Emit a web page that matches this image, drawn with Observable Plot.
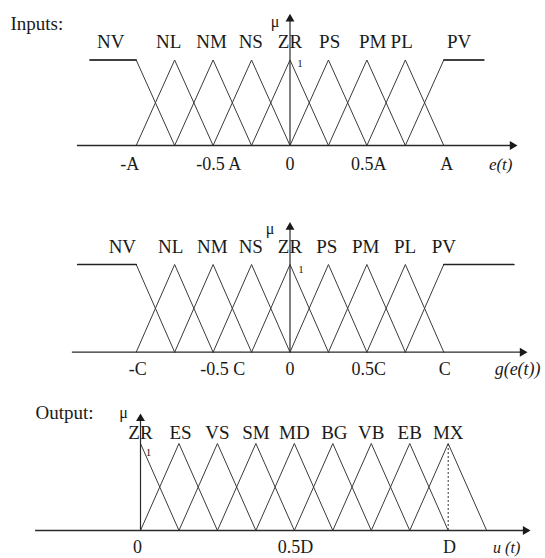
<!DOCTYPE html>
<html>
<head>
<meta charset="utf-8">
<script src="https://cdn.jsdelivr.net/npm/d3@7"></script>
<script src="https://cdn.jsdelivr.net/npm/@observablehq/plot@0.6"></script>
<style>
  body { margin: 0; background: #fff; }
  #wrap { position: relative; width: 545px; height: 558px; overflow: hidden; background: #fff; }
  #wrap svg { position: absolute; left: 0; }
</style>
</head>
<body>
<div id="wrap"></div>
<script>
// ---------- DATA ----------
// Input 1: e(t), universe in units of A
const eTerms = ["NV", "NL", "NM", "NS", "ZR", "PS", "PM", "PL", "PV"];
const eBreakX = [
  [-1.30, -1.00, -0.75],
  [-1.00, -0.75, -0.50],
  [-0.75, -0.50, -0.25],
  [-0.50, -0.25, 0.00],
  [-0.25, 0.00, 0.25],
  [0.00, 0.25, 0.50],
  [0.25, 0.50, 0.75],
  [0.50, 0.75, 1.00],
  [0.75, 1.00, 1.26]
];
const eBreakMu = [
  [1, 1, 0], [0, 1, 0], [0, 1, 0], [0, 1, 0], [0, 1, 0],
  [0, 1, 0], [0, 1, 0], [0, 1, 0], [0, 1, 1]
];
const eLabelAt = [-1.165, -0.789, -0.51, -0.255, 0, 0.258, 0.538, 0.726, 1.10];
const eTickText = ["-A", "-0.5 A", "0", "0.5A", "A"];
const eTickAt = [-1.042, -0.464, 0, 0.512, 1.019];
const eAxisName = "e(t)";

// Input 2: g(e(t)), universe in units of C
const gTerms = ["NV", "NL", "NM", "NS", "ZR", "PS", "PM", "PL", "PV"];
const gBreakX = [
  [-1.38, -1.00, -0.75],
  [-1.00, -0.75, -0.50],
  [-0.75, -0.50, -0.25],
  [-0.50, -0.25, 0.00],
  [-0.25, 0.00, 0.25],
  [0.00, 0.25, 0.50],
  [0.25, 0.50, 0.75],
  [0.50, 0.75, 1.00],
  [0.75, 1.00, 1.455]
];
const gBreakMu = [
  [1, 1, 0], [0, 1, 0], [0, 1, 0], [0, 1, 0], [0, 1, 0],
  [0, 1, 0], [0, 1, 0], [0, 1, 0], [0, 1, 1]
];
const gLabelAt = [-1.09, -0.776, -0.505, -0.255, 0, 0.239, 0.492, 0.748, 1.0];
const gTickText = ["-C", "-0.5 C", "0", "0.5C", "C"];
const gTickAt = [-0.99, -0.438, 0, 0.512, 1.006];
const gAxisName = "g(e(t))";

// Output: u(t), universe in units of D
const uTerms = ["ZR", "ES", "VS", "SM", "MD", "BG", "VB", "EB", "MX"];
const uBreakX = [
  [0.000, 0.125],
  [0.000, 0.125, 0.250],
  [0.125, 0.250, 0.375],
  [0.250, 0.375, 0.500],
  [0.375, 0.500, 0.625],
  [0.500, 0.625, 0.750],
  [0.625, 0.750, 0.875],
  [0.750, 0.875, 1.000],
  [0.875, 1.000, 1.125]
];
const uBreakMu = [
  [1, 0], [0, 1, 0], [0, 1, 0], [0, 1, 0], [0, 1, 0],
  [0, 1, 0], [0, 1, 0], [0, 1, 0], [0, 1, 0]
];
const uLabelAt = [0, 0.13, 0.25, 0.375, 0.5, 0.63, 0.75, 0.875, 1.0];
const uTickText = ["0", "0.5D", "D"];
const uTickAt = [-0.01, 0.504, 1.004];
const uAxisName = "u (t)";

// ---------- LAYOUT ----------
const FONT = "'Liberation Serif', 'Times New Roman', serif";
const INK = "#1a1a1a";

function rowsOf(names, xs, mus) {
  const rows = [];
  names.forEach((n, i) => xs[i].forEach((x, j) => rows.push({set: n, x, mu: mus[i][j]})));
  return rows;
}

function panel(cfg) {
  const rows = rowsOf(cfg.terms, cfg.breakX, cfg.breakMu);
  const plateau = rows.filter(r => {
    const i = cfg.terms.indexOf(r.set);
    return cfg.breakMu[i].filter(m => m === 1).length > 1 && r.mu === 1;
  });
  const labels = cfg.terms.map((t, i) => ({t, x: cfg.labelAt[i]}));
  const ticks = cfg.tickText.map((t, i) => ({t, x: cfg.tickAt[i]}));
  const marks = [
    // membership functions
    Plot.line(rows, {x: "x", y: "mu", z: "set", stroke: "#3a3a3a", strokeWidth: 1}),
    Plot.line(plateau, {x: "x", y: "mu", z: "set", stroke: "#222", strokeWidth: 1.7}),
    // horizontal axis
    Plot.ruleY([0], {x1: cfg.axisX[0], x2: cfg.axisX[1], stroke: "#2a2a2a", strokeWidth: 1.3}),
    Plot.dot([0], {x: cfg.axisX[1], y: 0, symbol: "triangle", r: 3.3, rotate: 90, fill: INK, stroke: "none"}),
    // vertical axis
    Plot.ruleX([cfg.yAxisAt], {y1: 0, y2: cfg.axisTop, stroke: "#2a2a2a", strokeWidth: 1.2}),
    Plot.dot([0], {x: cfg.yAxisAt, y: cfg.axisTop, symbol: "triangle", r: 3.3, fill: INK, stroke: "none"}),
    // term labels
    Plot.text(labels, {x: "x", text: "t", frameAnchor: "top", dy: cfg.labelY, lineAnchor: "middle",
      fontSize: 19, fill: INK}),
    // tick labels
    Plot.text(ticks, {x: "x", text: "t", frameAnchor: "top", dy: cfg.tickY, lineAnchor: "middle",
      fontSize: 18, fill: INK}),
    // axis name
    Plot.text([cfg.axisName], {x: cfg.axisNameAt, text: d => d, frameAnchor: "top", dy: cfg.tickY,
      lineAnchor: "middle", fontSize: cfg.axisNameSize, fontStyle: "italic", fill: INK}),
    // mu
    Plot.text(["\u03bc"], {x: cfg.yAxisAt, text: d => d, frameAnchor: "top", dx: cfg.muDx, dy: cfg.muY,
      lineAnchor: "middle", fontSize: 16, fill: INK}),
    // "1" mark at the top of the vertical axis
    Plot.text(["1"], {x: cfg.yAxisAt, y: 1, text: d => d, dx: cfg.oneDx, dy: cfg.oneDy,
      lineAnchor: "middle", fontSize: 11, fill: INK})
  ];
  if (cfg.title) {
    marks.push(Plot.text([cfg.title], {text: d => d, frameAnchor: "top-left", dx: cfg.titleX, dy: cfg.titleY,
      textAnchor: "start", lineAnchor: "middle", fontSize: 19, fill: INK}));
  }
  if (cfg.dashedAt !== undefined) {
    marks.push(Plot.ruleX([cfg.dashedAt], {y1: 0, y2: 1, stroke: "#333", strokeWidth: 1, strokeDasharray: "2,2"}));
  }
  const svg = Plot.plot({
    width: 545,
    height: cfg.height,
    margin: 0,
    x: {domain: cfg.xDomain, range: cfg.xRange, axis: null},
    y: {domain: [0, 1], range: cfg.yRange, axis: null},
    style: {overflow: "visible", fontFamily: FONT, background: "transparent"},
    marks
  });
  svg.style.top = cfg.top + "px";
  return svg;
}

const wrap = document.getElementById("wrap");

wrap.appendChild(panel({
  top: 0, height: 190,
  terms: eTerms, breakX: eBreakX, breakMu: eBreakMu, labelAt: eLabelAt,
  tickText: eTickText, tickAt: eTickAt, axisName: eAxisName, axisNameAt: 1.37, axisNameSize: 17,
  xDomain: [-1, 1], xRange: [135.7, 443.3], yRange: [145, 59.5],
  axisX: [-1.382, 1.446], yAxisAt: 0, axisTop: 1.48,
  labelY: 41.5, tickY: 164, muDx: -15, muY: 21, oneDx: 10, oneDy: 3,
  title: "Inputs:", titleX: 10, titleY: 23.5
}));

wrap.appendChild(panel({
  top: 190, height: 190,
  terms: gTerms, breakX: gBreakX, breakMu: gBreakMu, labelAt: gLabelAt,
  tickText: gTickText, tickAt: gTickAt, axisName: gAxisName, axisNameAt: 1.48, axisNameSize: 18,
  xDomain: [-1, 1], xRange: [135.7, 443.3], yRange: [161.7, 74],
  axisX: [-1.415, 1.511], yAxisAt: 0, axisTop: 1.425,
  labelY: 56.5, tickY: 179, muDx: -20, muY: 38, oneDx: 11, oneDy: 5
}));

wrap.appendChild(panel({
  top: 380, height: 178,
  terms: uTerms, breakX: uBreakX, breakMu: uBreakMu, labelAt: uLabelAt,
  tickText: uTickText, tickAt: uTickAt, axisName: uAxisName, axisNameAt: 1.19, axisNameSize: 16,
  xDomain: [0, 1], xRange: [140, 447.7], yRange: [150, 63],
  axisX: [-0.341, 1.251], yAxisAt: 0, axisTop: 1.287,
  labelY: 52, tickY: 167, muDx: -17, muY: 32, oneDx: 8, oneDy: 9,
  title: "Output:", titleX: 35, titleY: 32.5,
  dashedAt: 1
}));
</script>
</body>
</html>
